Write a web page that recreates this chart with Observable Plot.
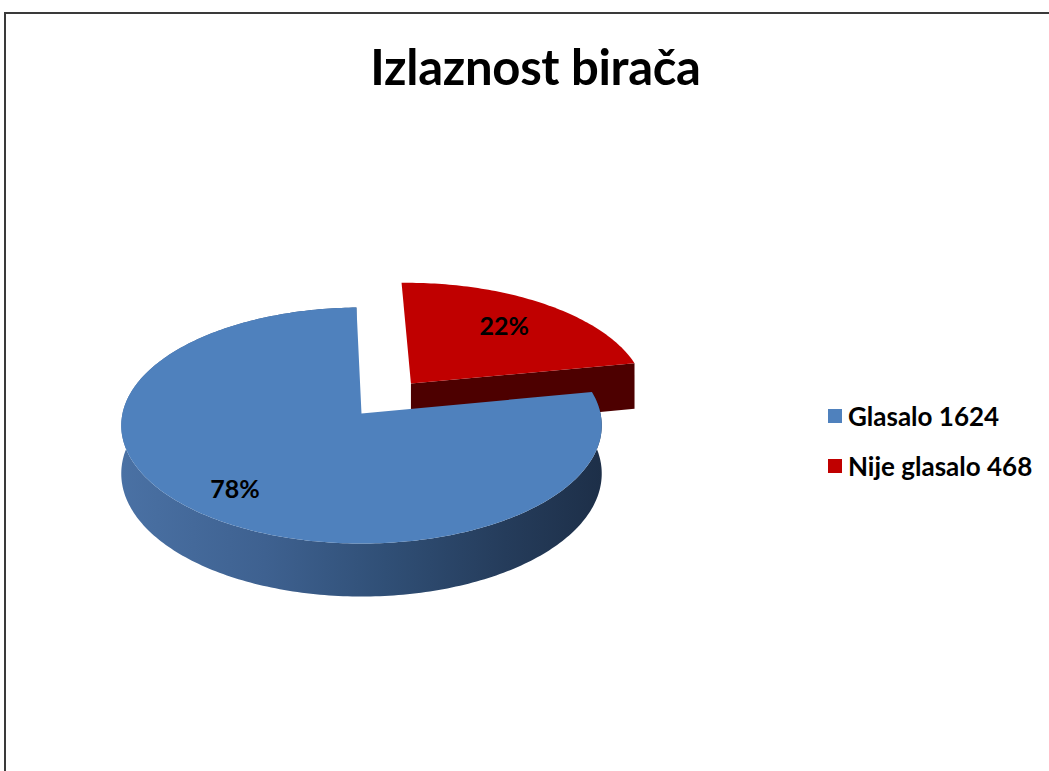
<!DOCTYPE html>
<html>
<head>
<meta charset="utf-8">
<script src="https://cdn.jsdelivr.net/npm/d3@7"></script>
<script src="https://cdn.jsdelivr.net/npm/@observablehq/plot@0.6"></script>
<style>
  html, body { margin: 0; padding: 0; background: #fff; overflow: hidden; font-family: Lato, "Open Sans", sans-serif; }
  #page { position: relative; width: 1049px; height: 771px; overflow: hidden; background: #fff; }
  #frameTop { position: absolute; left: 4px; top: 12px; width: 1045px; height: 2px; background: #3a3a3a; }
  #frameLeft { position: absolute; left: 4px; top: 12px; width: 2px; height: 759px; background: #3a3a3a; }
  #chart { position: absolute; left: 0; top: 0; }
  #title { position: absolute; top: 37px; left: 0; width: 1071px; text-align: center;
           font-weight: 700; font-size: 49px; line-height: 1.2; color: #000; letter-spacing: -0.3px; }
  #legend { position: absolute; left: 828px; top: 398px; }
  .item { display: flex; align-items: center; height: 36px; margin-bottom: 14px;
          font-weight: 700; font-size: 26px; color: #000; white-space: nowrap; }
  .sw { width: 14px; height: 14px; margin-right: 6px; flex: none; }
</style>
</head>
<body>
<div id="page">
  <div id="frameTop"></div>
  <div id="frameLeft"></div>
  <div id="chart"></div>
  <div id="title"></div>
  <div id="legend"></div>
</div>
<script>
// ---- data ----
const title = "Izlaznost birača";
const categories = ["Glasalo", "Nije glasalo"];
const values = [1624, 468];
const percentLabels = ["78%", "22%"];
const legendLabels = ["Glasalo 1624", "Nije glasalo 468"];
const topColors = ["#4F81BD", "#C00000"];
const sideColors = ["url(#blueSide)", "#4D0000"];
const explode = [0, 0.338];

// ---- layout ----
const W = 1049, H = 771;
const X0 = 361, Y0 = 413, RX = 239, SY = 116.8;   // pie center & radii (px)
const K = 0.1017;        // perspective strength
const THICK = 0.4075;    // pie thickness (in SY units)
const firstSliceAngle = 79.2; // degrees, clockwise from 12 o'clock
const labelRadius = [0.79, 0.69];

const rad = d => d * Math.PI / 180;
function proj(u, v, z) { const f = 1 / (1 - K * v); return { x: u * f, y: (v + z) * f }; }

const total = d3.sum(values);
let acc = firstSliceAngle;
const slices = values.map((val, i) => {
  const a0 = acc, a1 = acc + 360 * val / total; acc = a1;
  const mid = rad((a0 + a1) / 2);
  const cu = explode[i] * Math.sin(mid), cv = -explode[i] * Math.cos(mid);
  return { i, a0, a1, cu, cv };
});
const pt = (s, a, r, z) => proj(s.cu + r * Math.sin(rad(a)), s.cv - r * Math.cos(rad(a)), z);
const arc = (s, from, to, z) => {
  const n = Math.max(2, Math.ceil(Math.abs(to - from)));
  return d3.range(n + 1).map(k => pt(s, from + (to - from) * k / n, 1, z));
};

// faces
function topFace(s) { return [pt(s, 0, 0, 0), ...arc(s, s.a0, s.a1, 0)]; }
function band(s) { return [...arc(s, s.a0, s.a1, 0), ...arc(s, s.a1, s.a0, THICK)]; }
function endFace(s, a) { return [pt(s, a, 0, 0), pt(s, a, 1, 0), pt(s, a, 1, THICK), pt(s, a, 0, THICK)]; }

const blue = slices[0], red = slices[1];
const labels = slices.map(s => {
  const m = (s.a0 + s.a1) / 2;
  return { ...pt(s, m, labelRadius[s.i], 0), text: percentLabels[s.i] };
});

const marks = [
  // red (exploded, behind) : only its cut face at the end angle is visible
  Plot.line(endFace(red, red.a1), { x: "x", y: "y", fill: sideColors[1], stroke: "none" }),
  Plot.line(topFace(red), { x: "x", y: "y", fill: topColors[1], stroke: "none" }),
  // blue
  Plot.line(band(blue), { x: "x", y: "y", fill: sideColors[0], stroke: "none" }),
  Plot.line(topFace(blue), { x: "x", y: "y", fill: topColors[0], stroke: "none" }),
  Plot.text(labels, { x: "x", y: "y", text: "text", fontSize: 25, fontWeight: 700, fill: "#000",
                      fontFamily: "Lato, sans-serif" })
];

const chart = Plot.plot({
  width: W, height: H,
  margin: 0,
  x: { domain: [-X0 / RX, (W - X0) / RX], range: [0, W], axis: null },
  y: { domain: [-Y0 / SY, (H - Y0) / SY], range: [0, H], axis: null },
  style: { background: "transparent", overflow: "hidden" },
  marks
});

const defs = d3.select(chart).insert("defs", ":first-child");
const g = defs.append("linearGradient").attr("id", "blueSide").attr("x1", "0").attr("x2", "1").attr("y1", "0").attr("y2", "0");
[["0%", "#4A71A4"], ["30%", "#3E6190"], ["55%", "#304F76"], ["80%", "#253C5B"], ["100%", "#1D2F48"]]
  .forEach(([o, c]) => g.append("stop").attr("offset", o).attr("stop-color", c));

document.getElementById("chart").appendChild(chart);
document.getElementById("title").textContent = title;

const legend = document.getElementById("legend");
legendLabels.forEach((t, i) => {
  const item = document.createElement("div");
  item.className = "item";
  const sw = document.createElement("div");
  sw.className = "sw"; sw.style.background = topColors[i];
  const label = document.createElement("span");
  label.textContent = t;
  item.appendChild(sw); item.appendChild(label);
  legend.appendChild(item);
});
</script>
</body>
</html>
